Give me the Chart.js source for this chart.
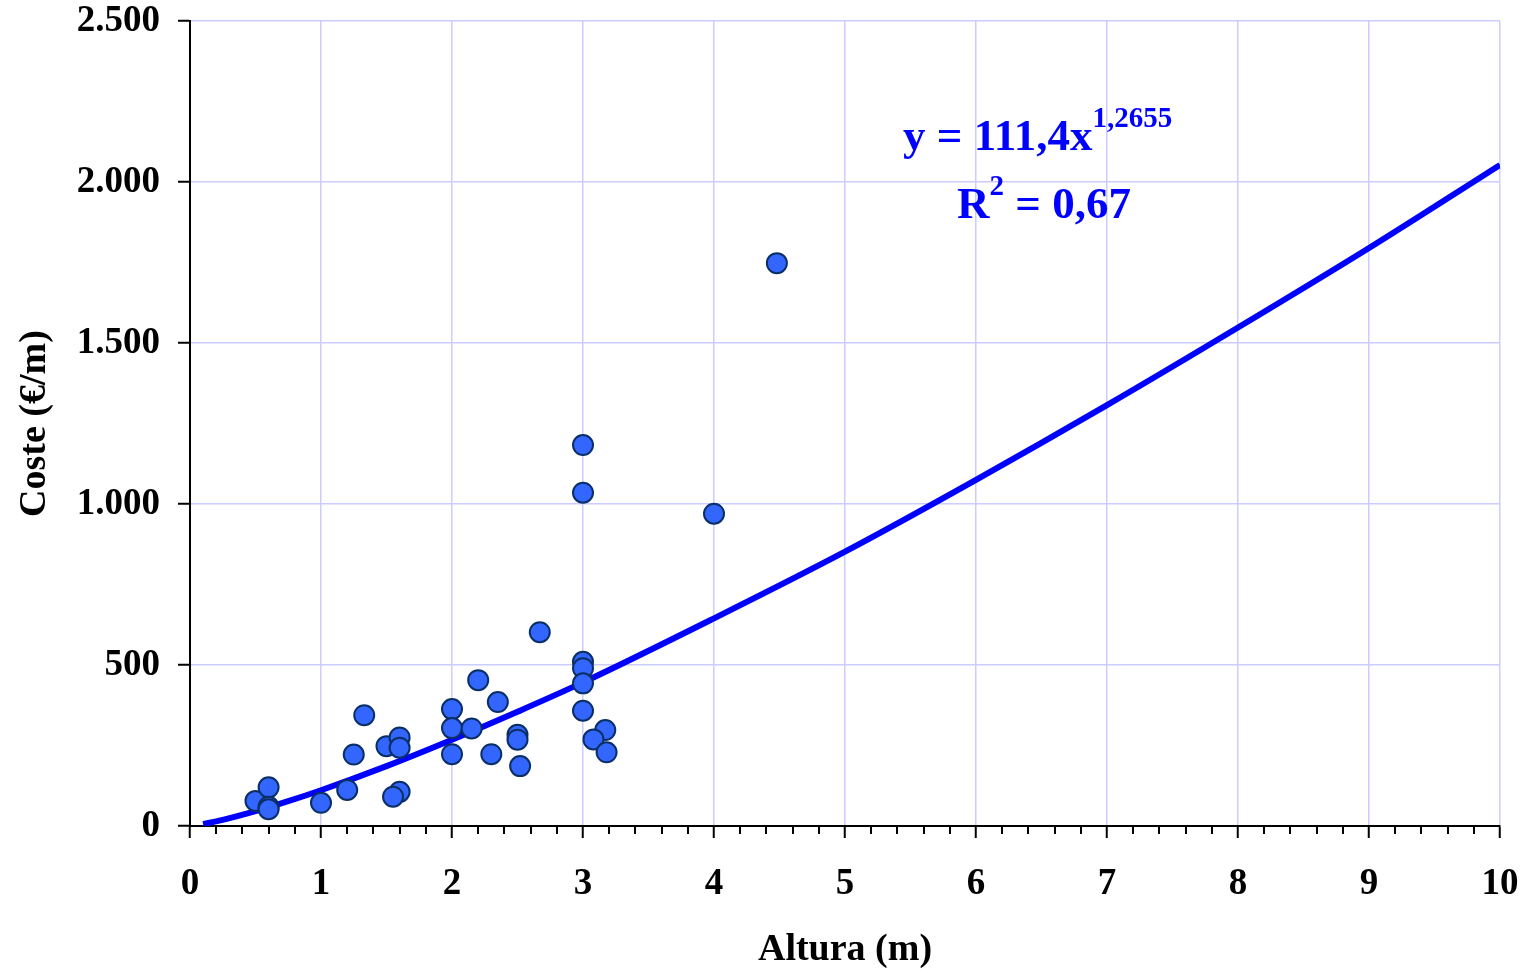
<!DOCTYPE html>
<html>
<head>
<meta charset="utf-8">
<script src="https://cdn.jsdelivr.net/npm/chart.js@4/dist/chart.umd.min.js"></script>
<style>
  html, body { margin: 0; padding: 0; background: #fff; }
  #wrap { width: 1526px; height: 973px; }
</style>
</head>
<body>
<div id="wrap"><canvas id="chart"></canvas></div>
<script>
// Observed points (Altura m, Coste €/m)
const alturas = [0.5, 0.6, 0.6, 0.6, 1.0, 1.2, 1.25, 1.33, 1.5, 1.6, 1.6, 1.6, 1.55,
                 2.0, 2.0, 2.0, 2.15, 2.2, 2.35, 2.3, 2.5, 2.5, 2.52, 2.67,
                 3.0, 3.0, 3.0, 3.0, 3.17, 3.08, 3.18, 3.0, 3.0, 4.0, 4.48];
const costes  = [78, 120, 60, 52, 72, 112, 222, 344, 248, 275, 243, 106, 91,
                 363, 304, 223, 303, 453, 385, 223, 283, 268, 186, 602,
                 510, 490, 443, 358, 298, 269, 229, 1183, 1035, 970, 1748];

// Trend line
const trendX = [0.1, 0.25, 0.5, 0.75, 1, 1.5, 2, 2.5, 3, 4, 5, 6, 7, 8, 9, 10];
const trendY = [6, 19, 46, 77, 111, 186, 268, 355, 446, 645, 852, 1075, 1307, 1548, 1795, 2053];

const xTicks = [0, 1, 2, 3, 4, 5, 6, 7, 8, 9, 10];
const yTicks = [0, 500, 1000, 1500, 2000, 2500];

const FONT = "'Liberation Serif', 'Times New Roman', serif";
const GRID = '#ccccff';

const fmtMiles = v => String(v).replace(/\B(?=(\d{3})+(?!\d))/g, '.');

// short minor ticks on the x axis every 0.2
const minorTicks = {
    id: 'minorTicks',
    afterDraw: (chart) => {
        const { ctx, scales: { x } } = chart;
        ctx.save();
        ctx.strokeStyle = '#000'; ctx.lineWidth = 2;
        ctx.beginPath();
        for (let i = 1; i < 50; i++) {
            if (i % 5 === 0) continue;
            const px = Math.round(x.getPixelForValue(i / 5));
            ctx.moveTo(px, x.top); ctx.lineTo(px, x.top + 8);
        }
        ctx.stroke();
        ctx.restore();
    }
};

// regression equation label
const equation = {
    id: 'equation',
    afterDraw: (chart) => {
        const ctx = chart.ctx;
        ctx.save();
        ctx.fillStyle = '#0000ff';
        ctx.textBaseline = 'alphabetic';
        ctx.textAlign = 'left';
        ctx.font = `bold 45px ${FONT}`;
        const main = 'y = 111,4x';
        ctx.fillText(main, 903, 150);
        const w = ctx.measureText(main).width;
        ctx.font = `bold 29px ${FONT}`;
        ctx.fillText('1,2655', 903 + w, 127);

        ctx.font = `bold 45px ${FONT}`;
        ctx.fillText('R', 957, 218);
        const wr = ctx.measureText('R').width;
        ctx.font = `bold 29px ${FONT}`;
        ctx.fillText('2', 957 + wr, 195);
        const w2 = ctx.measureText('2').width;
        ctx.font = `bold 45px ${FONT}`;
        ctx.fillText(' = 0,67', 957 + wr + w2, 218);
        ctx.restore();
    }
};

new Chart(document.getElementById('chart'), {
    type: 'scatter',
    data: {
        datasets: [
            {
                label: 'Coste',
                data: alturas.map((a, i) => ({ x: a, y: costes[i] })),
                backgroundColor: '#3366ff',
                borderColor: '#0a2f66',
                borderWidth: 2,
                pointRadius: 10,
                pointHoverRadius: 10,
                order: 1
            },
            {
                label: 'Potencial',
                type: 'line',
                data: trendX.map((a, i) => ({ x: a, y: trendY[i] })),
                borderColor: '#0000ff',
                borderWidth: 6,
                pointRadius: 0,
                cubicInterpolationMode: 'monotone',
                fill: false,
                order: 2
            }
        ]
    },
    plugins: [minorTicks, equation],
    options: {
        responsive: true, maintainAspectRatio: false, animation: false,
        layout: { padding: { top: 21, right: 26, left: 0, bottom: 0 } },
        plugins: { legend: { display: false }, tooltip: { enabled: false } },
        scales: {
            x: {
                type: 'linear', min: 0, max: 10,
                afterFit: s => { s.height = 147; s.paddingLeft = 0; s.paddingRight = 0; },
                afterBuildTicks: s => { s.ticks = xTicks.map(v => ({ value: v })); },
                grid: { color: GRID, lineWidth: 1.5, tickColor: '#000', tickLength: 12, tickWidth: 2 },
                border: { color: '#000', width: 2 },
                ticks: { color: '#000', font: { family: FONT, size: 37, weight: 'bold' }, padding: 24, maxRotation: 0 },
                title: { display: true, text: 'Altura (m)', color: '#000', font: { family: FONT, size: 38, weight: 'bold' }, padding: { top: 0, bottom: 0 } }
            },
            y: {
                type: 'linear', min: 0, max: 2500,
                afterFit: s => { s.width = 190; s.paddingTop = 0; s.paddingBottom = 0; },
                afterBuildTicks: s => { s.ticks = yTicks.map(v => ({ value: v })); },
                grid: { color: GRID, lineWidth: 1.5, tickColor: '#000', tickLength: 12, tickWidth: 2 },
                border: { color: '#000', width: 2 },
                ticks: { color: '#000', font: { family: FONT, size: 37, weight: 'bold' }, padding: 18, callback: v => fmtMiles(v) },
                title: { display: true, text: 'Coste (€/m)', color: '#000', font: { family: FONT, size: 38, weight: 'bold' }, padding: { top: 12, bottom: 0 } }
            }
        }
    }
});
</script>
</body>
</html>
